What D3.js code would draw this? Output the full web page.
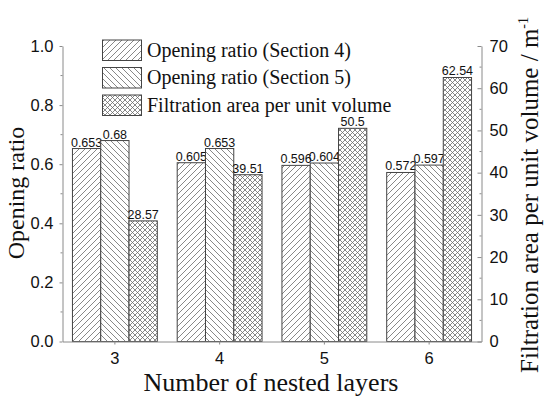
<!DOCTYPE html>
<html><head><meta charset="utf-8">
<script src="https://cdn.jsdelivr.net/npm/d3@7"></script>
<style>body{margin:0;background:#fff}svg{display:block}</style>
</head><body>
<svg id="c" width="550" height="403"></svg>
<script>
const categories = ["3","4","5","6"];
const openingSec4 = [0.653, 0.605, 0.596, 0.572];
const openingSec5 = [0.68, 0.653, 0.604, 0.597];
const filtrationArea = [28.57, 39.51, 50.5, 62.54];
const filtrationLabels = ["28.57","39.51","50.5","62.54"];
const sec4Labels = ["0.653","0.605","0.596","0.572"];
const sec5Labels = ["0.68","0.653","0.604","0.597"];
const leftTicks = [0, 0.2, 0.4, 0.6, 0.8, 1.0];
const rightTicks = [0,10,20,30,40,50,60,70];
const legendNames = ["Opening ratio (Section 4)","Opening ratio (Section 5)","Filtration area per unit volume"];

const svg = d3.select("#c");
const L = 62.5, R = 481.5, T = 46, B = 341.5;
const axisColor = "#8a8a8a";

const defs = svg.append("defs");
function hatch(id, paths, size){
  const p = defs.append("pattern").attr("id", id).attr("patternUnits","userSpaceOnUse")
    .attr("width", size).attr("height", size);
  p.append("rect").attr("width",size).attr("height",size).attr("fill","#fff");
  paths.forEach(d => p.append("path").attr("d", d).attr("stroke","#6a6a6a").attr("stroke-width",0.8).attr("fill","none"));
}
const s = 6;
hatch("fwd", [`M0,${s} L${s},0 M${-s/2},${s/2} L${s/2},${-s/2} M${s/2},${s*1.5} L${s*1.5},${s/2}`], s);
hatch("bwd", [`M0,0 L${s},${s} M${-s/2},${s/2} L${s/2},${s*1.5} M${s/2},${-s/2} L${s*1.5},${s/2}`], s);
const c = 5;
hatch("cross", [`M0,0 L${c},${c} M${-c/2},${c/2} L${c/2},${c*1.5} M${c/2},${-c/2} L${c*1.5},${c/2}`,
                `M0,${c} L${c},0 M${-c/2},${c/2} L${c/2},${-c/2} M${c/2},${c*1.5} L${c*1.5},${c/2}`], c);

const x = d3.scaleBand().domain(categories).range([L, R]).paddingInner(0.19).paddingOuter(0.095);
const xs = d3.scaleBand().domain([0,1,2]).range([0, x.bandwidth()]);
const yL = d3.scaleLinear().domain([0,1]).range([B, T]);
const yR = d3.scaleLinear().domain([0,70]).range([B, T]);

const series = [
  {vals: openingSec4, labels: sec4Labels, scale: yL, fill: "url(#fwd)"},
  {vals: openingSec5, labels: sec5Labels, scale: yL, fill: "url(#bwd)"},
  {vals: filtrationArea, labels: filtrationLabels, scale: yR, fill: "url(#cross)"}
];

series.forEach((sr, si) => {
  const g = svg.append("g");
  g.selectAll("rect").data(categories).join("rect")
    .attr("x", (d) => x(d) + xs(si))
    .attr("y", (d,i) => sr.scale(sr.vals[i]))
    .attr("width", xs.bandwidth())
    .attr("height", (d,i) => B - sr.scale(sr.vals[i]))
    .attr("fill", sr.fill).attr("stroke", "#444").attr("stroke-width", 1);
  g.selectAll("text").data(categories).join("text")
    .attr("x", (d) => x(d) + xs(si) + xs.bandwidth()/2)
    .attr("y", (d,i) => sr.scale(sr.vals[i]) - 2)
    .attr("text-anchor","middle")
    .attr("font-family","Liberation Sans, Arial, sans-serif")
    .attr("font-size", 12.5).attr("fill","#111")
    .text((d,i) => sr.labels[i]);
});

// Axes
function styleAxis(g){
  g.selectAll(".domain").attr("stroke", axisColor);
  g.selectAll(".tick line").attr("stroke", axisColor);
  g.selectAll("text").attr("font-family","Liberation Sans, Arial, sans-serif").attr("font-size",16.5).attr("fill","#111");
}
const gl = svg.append("g").attr("transform",`translate(${L},0)`)
  .call(d3.axisLeft(yL).tickValues(leftTicks).tickFormat(d3.format(".1f")).tickSizeInner(3).tickSizeOuter(0).tickPadding(6));
styleAxis(gl);
svg.append("g").selectAll("line").data(d3.range(0.1,1,0.2)).join("line")
  .attr("x1", L-2).attr("x2", L).attr("y1", d=>yL(d)).attr("y2", d=>yL(d)).attr("stroke", axisColor);

const gr = svg.append("g").attr("transform",`translate(${R},0)`)
  .call(d3.axisRight(yR).tickValues(rightTicks).tickSizeInner(-4).tickSizeOuter(0).tickPadding(8));
styleAxis(gr);
svg.append("g").selectAll("line").data(d3.range(5,70,10)).join("line")
  .attr("x1", R-2).attr("x2", R).attr("y1", d=>yR(d)).attr("y2", d=>yR(d)).attr("stroke", axisColor);

const gb = svg.append("g").attr("transform",`translate(0,${B})`)
  .call(d3.axisBottom(x).tickSizeInner(3).tickSizeOuter(0).tickPadding(8));
styleAxis(gb);

// Titles
const serif = "Liberation Serif, Times New Roman, serif";
svg.append("text").attr("transform",`translate(24,${193}) rotate(-90)`)
  .attr("text-anchor","middle").attr("font-family",serif).attr("font-size",24).attr("fill","#111")
  .text("Opening ratio");
svg.append("text").attr("x",271).attr("y",391)
  .attr("text-anchor","middle").attr("font-family",serif).attr("font-size",26).attr("fill","#111")
  .text("Number of nested layers");
const rt = svg.append("text").attr("transform",`translate(538,${195}) rotate(-90)`)
  .attr("text-anchor","middle").attr("font-family",serif).attr("font-size",25).attr("fill","#111");
rt.append("tspan").text("Filtration area per unit volume  / m");
rt.append("tspan").attr("font-size",14).attr("dy",-10).text("-1");

// Legend
const lg = svg.append("g");
const fills = ["url(#fwd)","url(#bwd)","url(#cross)"];
legendNames.forEach((n,i) => {
  const y0 = 40 + i*27.5;
  lg.append("rect").attr("x",102.5).attr("y",y0).attr("width",39).attr("height",20.5)
    .attr("fill",fills[i]).attr("stroke","#444");
  lg.append("text").attr("x",147).attr("y",y0+16.5).attr("font-family",serif).attr("font-size",20).attr("fill","#111").text(n);
});
</script>
</body></html>
